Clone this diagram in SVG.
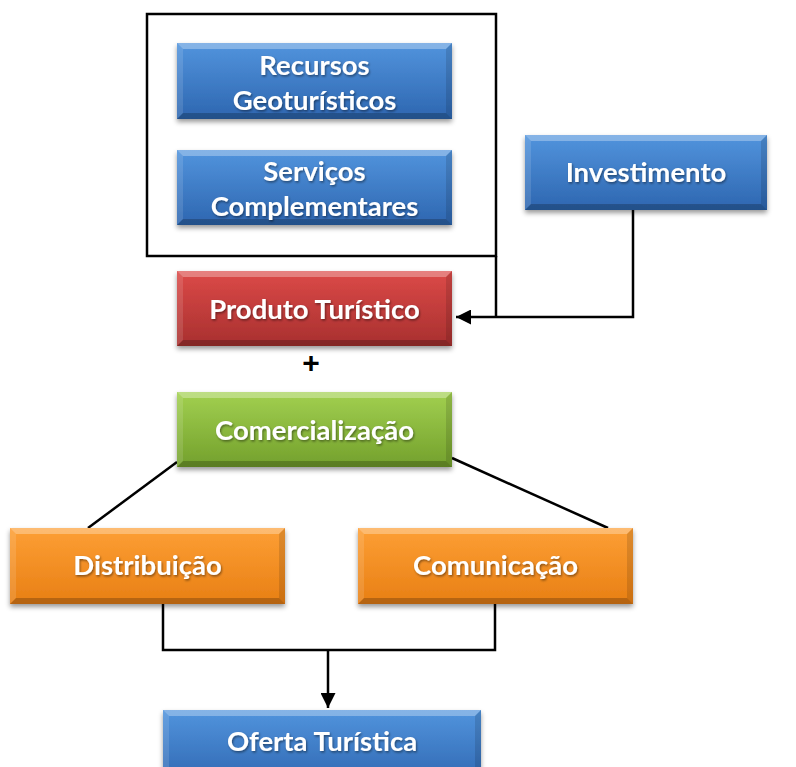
<svg xmlns="http://www.w3.org/2000/svg" width="796" height="767" viewBox="0 0 796 767">
<defs>
<linearGradient id="gBlue" x1="0" y1="0" x2="0" y2="1"><stop offset="0" stop-color="#5294dd"/><stop offset="1" stop-color="#2d66b0"/></linearGradient>
<linearGradient id="gRed" x1="0" y1="0" x2="0" y2="1"><stop offset="0" stop-color="#dc4a48"/><stop offset="1" stop-color="#a8302f"/></linearGradient>
<linearGradient id="gGreen" x1="0" y1="0" x2="0" y2="1"><stop offset="0" stop-color="#a2d050"/><stop offset="1" stop-color="#73a02c"/></linearGradient>
<linearGradient id="gOrange" x1="0" y1="0" x2="0" y2="1"><stop offset="0" stop-color="#fd9f35"/><stop offset="1" stop-color="#e87f14"/></linearGradient>
<filter id="sh" x="-10%" y="-20%" width="120%" height="150%"><feDropShadow dx="0" dy="3" stdDeviation="2.5" flood-color="#000" flood-opacity="0.4"/></filter>
<filter id="tsh" x="-10%" y="-30%" width="120%" height="160%"><feDropShadow dx="1" dy="1.5" stdDeviation="1" flood-color="#000" flood-opacity="0.45"/></filter>
<marker id="arr" viewBox="0 0 10 10" refX="10" refY="5" markerWidth="6" markerHeight="6" markerUnits="strokeWidth" orient="auto"><path d="M0,0 L10,5 L0,10 z" fill="#000"/></marker>
</defs>
<style>
.lbl{font-family:Lato,"Open Sans","Liberation Sans",sans-serif;font-weight:bold;font-size:27.5px;fill:#fff;text-anchor:middle;filter:url(#tsh)}
.hi{fill:#fff;opacity:0.3}
.lo{fill:#000;opacity:0.22}
.sl{fill:#fff;opacity:0.12}
.sr{fill:#000;opacity:0.12}
.ln{fill:none;stroke:#000;stroke-width:2.5}
</style>
<rect x="0" y="0" width="796" height="767" fill="#fff"/>
<g id="connectors">
<rect x="147" y="14" width="349" height="242" class="ln"/>
<polyline points="496,256 496,317" class="ln"/>
<polyline points="633,210 633,317 456,317" class="ln" marker-end="url(#arr)"/>
<line x1="177" y1="462" x2="88" y2="528" class="ln"/>
<line x1="452" y1="458" x2="608" y2="528" class="ln"/>
<polyline points="163,604 163,650 495,650 495,604" class="ln"/>
<polyline points="328,650 328,708" class="ln" marker-end="url(#arr)"/>
<text x="311" y="373" style="font-family:'Liberation Sans',sans-serif;font-weight:bold;font-size:30px;text-anchor:middle">+</text>
</g>
<g id="recursos">
<rect x="177" y="43" width="275" height="76" fill="url(#gBlue)" filter="url(#sh)"/>
<polygon class="hi" points="177,43 452,43 446,49 183,49"/>
<polygon class="lo" points="177,119 452,119 446,113 183,113"/>
<polygon class="sl" points="177,43 183,49 183,113 177,119"/>
<polygon class="sr" points="452,43 446,49 446,113 452,119"/>
<text class="lbl" x="314.5" y="75">Recursos</text>
<text class="lbl" x="314.5" y="110">Geoturísticos</text>
</g>
<g id="servicos">
<rect x="177" y="150" width="275" height="75" fill="url(#gBlue)" filter="url(#sh)"/>
<polygon class="hi" points="177,150 452,150 446,156 183,156"/>
<polygon class="lo" points="177,225 452,225 446,219 183,219"/>
<polygon class="sl" points="177,150 183,156 183,219 177,225"/>
<polygon class="sr" points="452,150 446,156 446,219 452,225"/>
<text class="lbl" x="314.5" y="181">Serviços</text>
<text class="lbl" x="314.5" y="216">Complementares</text>
</g>
<g id="investimento">
<rect x="525" y="135" width="242" height="75" fill="url(#gBlue)" filter="url(#sh)"/>
<polygon class="hi" points="525,135 767,135 761,141 531,141"/>
<polygon class="lo" points="525,210 767,210 761,204 531,204"/>
<polygon class="sl" points="525,135 531,141 531,204 525,210"/>
<polygon class="sr" points="767,135 761,141 761,204 767,210"/>
<text class="lbl" x="646" y="182">Investimento</text>
</g>
<g id="produto">
<rect x="177" y="271" width="275" height="75" fill="url(#gRed)" filter="url(#sh)"/>
<polygon class="hi" points="177,271 452,271 446,277 183,277"/>
<polygon class="lo" points="177,346 452,346 446,340 183,340"/>
<polygon class="sl" points="177,271 183,277 183,340 177,346"/>
<polygon class="sr" points="452,271 446,277 446,340 452,346"/>
<text class="lbl" x="314.5" y="319">Produto Turístico</text>
</g>
<g id="comercializacao">
<rect x="177" y="392" width="275" height="75" fill="url(#gGreen)" filter="url(#sh)"/>
<polygon class="hi" points="177,392 452,392 446,398 183,398"/>
<polygon class="lo" points="177,467 452,467 446,461 183,461"/>
<polygon class="sl" points="177,392 183,398 183,461 177,467"/>
<polygon class="sr" points="452,392 446,398 446,461 452,467"/>
<text class="lbl" x="314.5" y="440">Comercialização</text>
</g>
<g id="distribuicao">
<rect x="10" y="528" width="275" height="76" fill="url(#gOrange)" filter="url(#sh)"/>
<polygon class="hi" points="10,528 285,528 279,534 16,534"/>
<polygon class="lo" points="10,604 285,604 279,598 16,598"/>
<polygon class="sl" points="10,528 16,534 16,598 10,604"/>
<polygon class="sr" points="285,528 279,534 279,598 285,604"/>
<text class="lbl" x="147.5" y="575">Distribuição</text>
</g>
<g id="comunicacao">
<rect x="358" y="528" width="275" height="76" fill="url(#gOrange)" filter="url(#sh)"/>
<polygon class="hi" points="358,528 633,528 627,534 364,534"/>
<polygon class="lo" points="358,604 633,604 627,598 364,598"/>
<polygon class="sl" points="358,528 364,534 364,598 358,604"/>
<polygon class="sr" points="633,528 627,534 627,598 633,604"/>
<text class="lbl" x="495.5" y="575">Comunicação</text>
</g>
<g id="oferta">
<rect x="163" y="710" width="318" height="76" fill="url(#gBlue)" filter="url(#sh)"/>
<polygon class="hi" points="163,710 481,710 475,716 169,716"/>
<polygon class="sl" points="163,710 169,716 169,767 163,767"/>
<polygon class="sr" points="481,710 475,716 475,767 481,767"/>
<text class="lbl" x="322" y="751">Oferta Turística</text>
</g>
</svg>
